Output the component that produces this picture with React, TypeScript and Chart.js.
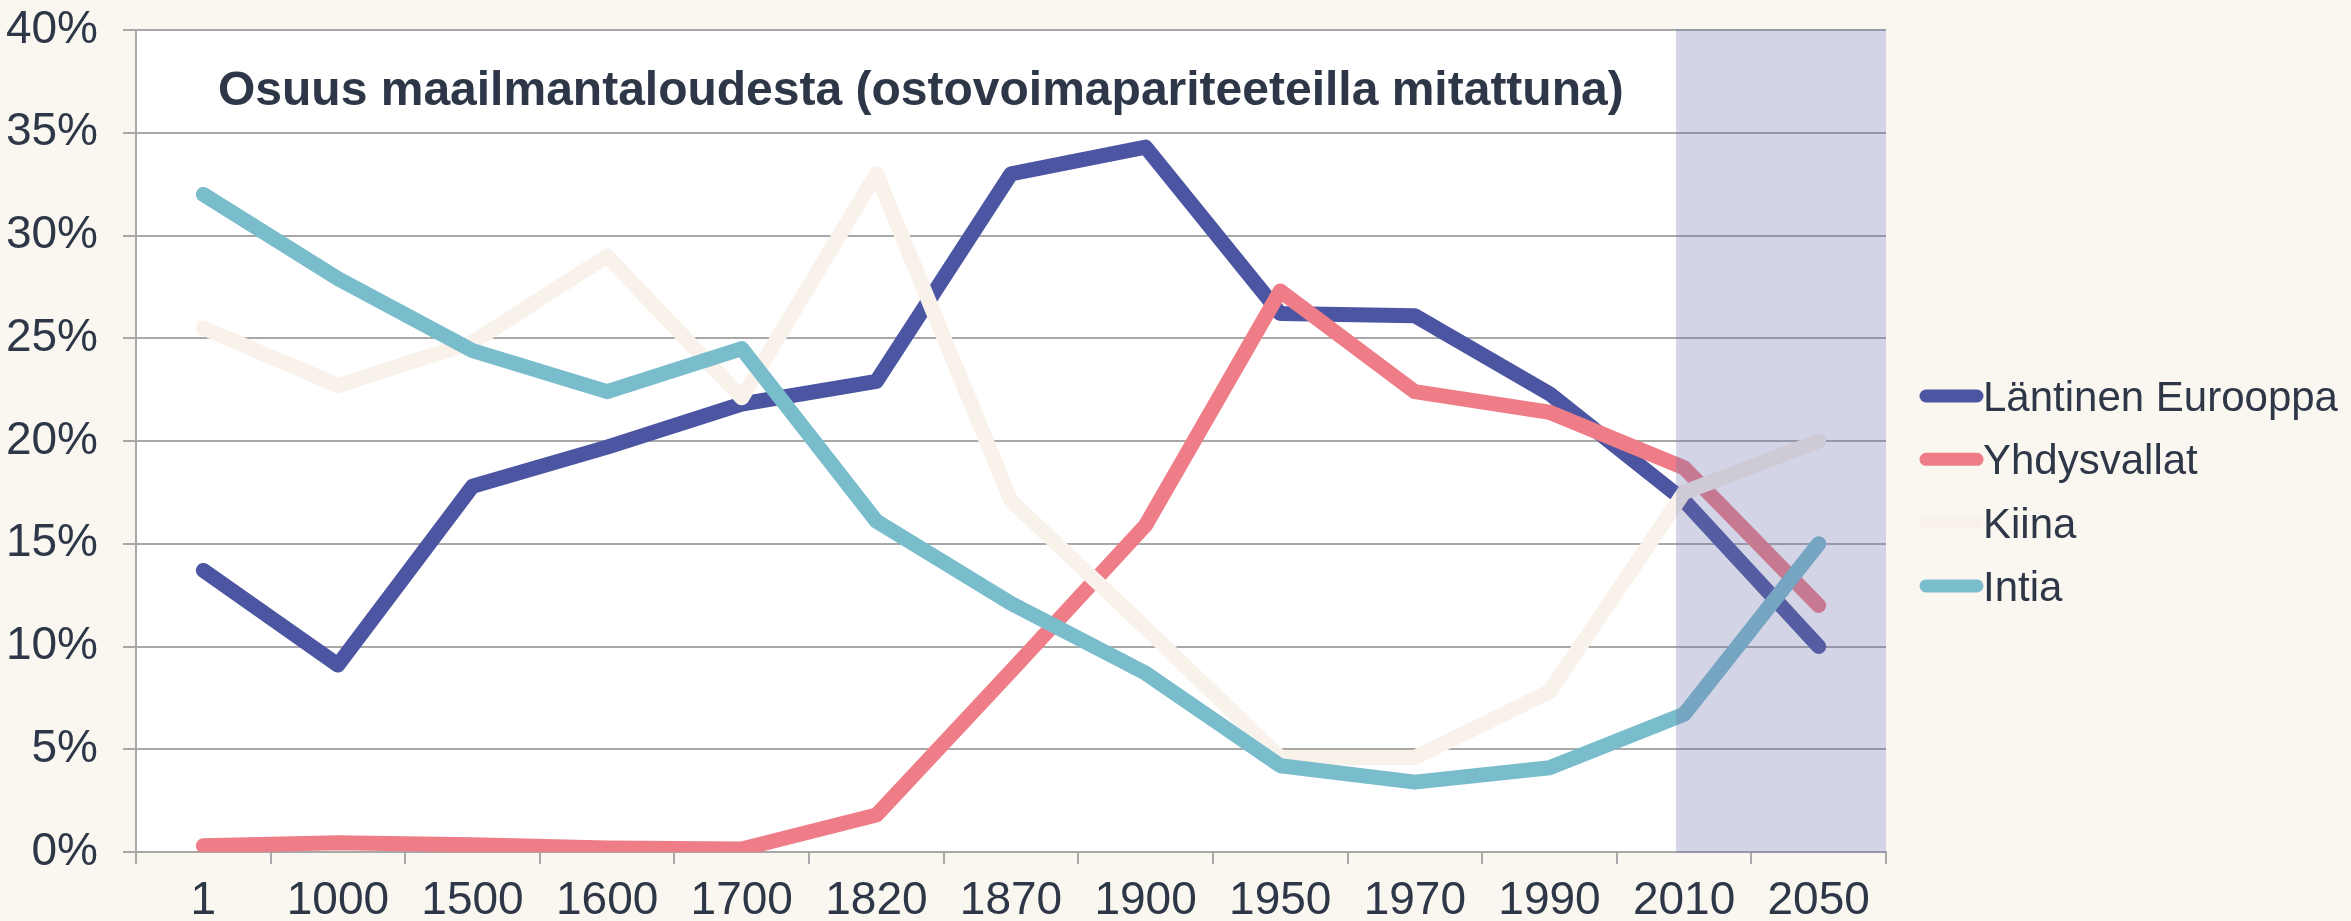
import React, { useEffect, useRef } from "react";
import { Chart, registerables } from "chart.js";

Chart.register(...registerables);

const categories = ["1", "1000", "1500", "1600", "1700", "1820", "1870", "1900", "1950", "1970", "1990", "2010", "2050"];
const lantinenEurooppa = [13.7, 9.1, 17.8, 19.7, 21.8, 22.9, 33.0, 34.3, 26.2, 26.1, 22.3, 17.1, 10.0];
const yhdysvallat = [0.3, 0.45, 0.35, 0.2, 0.15, 1.8, 8.8, 15.9, 27.3, 22.4, 21.4, 18.7, 12.0];
const kiina = [25.5, 22.7, 24.8, 29.0, 22.1, 33.0, 17.1, 10.9, 4.6, 4.6, 7.8, 17.5, 20.0];
const intia = [32.0, 27.9, 24.4, 22.4, 24.5, 16.1, 12.1, 8.7, 4.2, 3.4, 4.1, 6.7, 15.0];
const seriesNames = ["Läntinen Eurooppa", "Yhdysvallat", "Kiina", "Intia"];
const yTicks = [0, 5, 10, 15, 20, 25, 30, 35, 40];
const titleText = "Osuus maailmantaloudesta (ostovoimapariteeteilla mitattuna)";
const forecastStart = "2010";

const FONT = '"Liberation Sans", Arial, sans-serif';
const TEXT = "#2D3748";
const GRID = "#A8A8A8";
const colors = ["#4C55A1", "#EE7D88", "#F8F2EB", "#79BCCB"];

export default function App() {
  const ref = useRef<HTMLCanvasElement | null>(null);

  useEffect(() => {
    const canvas = ref.current;
    if (!canvas) return;

    const plotBg = {
      id: "plotBg",
      beforeDraw(chart: any) {
        const { ctx, chartArea: a } = chart;
        ctx.save();
        ctx.fillStyle = "#FFFFFF";
        ctx.fillRect(a.left, a.top, a.right - a.left, a.bottom - a.top);
        ctx.restore();
      },
    };

    const overlay = {
      id: "overlay",
      afterDatasetsDraw(chart: any) {
        const { ctx, chartArea: a, scales } = chart;
        const x0 = scales.x.getPixelForValue(categories.indexOf(forecastStart)) - 8;
        ctx.save();
        ctx.fillStyle = "rgba(110,113,170,0.3)";
        ctx.fillRect(x0, a.top - 1, a.right - x0, a.bottom - a.top + 2);
        ctx.restore();
      },
    };

    const decorations = {
      id: "decorations",
      afterDraw(chart: any) {
        const { ctx, chartArea: a } = chart;
        ctx.save();
        ctx.fillStyle = TEXT;
        ctx.font = `bold 48px ${FONT}`;
        ctx.textAlign = "left";
        ctx.textBaseline = "alphabetic";
        ctx.fillText(titleText, a.left + 82, a.top + 75);

        const lx0 = a.right + 40;
        const lx1 = a.right + 91;
        const top = 396;
        const step = 63.3;
        chart.data.datasets.forEach((ds: any, i: number) => {
          const y = top + i * step;
          ctx.strokeStyle = ds.borderColor;
          ctx.lineWidth = 13;
          ctx.lineCap = "round";
          ctx.beginPath();
          ctx.moveTo(lx0, y);
          ctx.lineTo(lx1, y);
          ctx.stroke();
          ctx.fillStyle = TEXT;
          ctx.font = `42px ${FONT}`;
          ctx.textBaseline = "alphabetic";
          ctx.fillText(ds.label, a.right + 97, y + 15);
        });
        ctx.restore();
      },
    };

    const series = [lantinenEurooppa, yhdysvallat, kiina, intia];
    const chart = new Chart(canvas, {
      type: "line",
      data: {
        labels: categories,
        datasets: series.map((d, i) => ({
          label: seriesNames[i],
          data: d,
          borderColor: colors[i],
          backgroundColor: colors[i],
          borderWidth: 15,
          pointRadius: 0,
          tension: 0,
          borderCapStyle: "round",
          borderJoinStyle: "round",
          order: 4 - i,
        })),
      },
      options: {
        responsive: false,
        animation: false,
        devicePixelRatio: 1,
        layout: { padding: { top: 30, right: 465, left: 0, bottom: 0 } },
        plugins: {
          legend: { display: false },
          title: { display: false },
          tooltip: { enabled: false },
        },
        scales: {
          x: {
            type: "category",
            offset: true,
            grid: {
              offset: true,
              drawOnChartArea: false,
              drawTicks: true,
              tickLength: 12,
              color: GRID,
              lineWidth: 2,
            },
            border: { color: GRID, width: 2 },
            ticks: {
              font: { family: FONT, size: 46 },
              color: TEXT,
              padding: 10,
              maxRotation: 0,
              autoSkip: false,
            },
            afterFit(scale: any) {
              scale.height = 69;
              scale.paddingLeft = 0;
              scale.paddingRight = 0;
            },
          },
          y: {
            min: 0,
            max: 40,
            afterBuildTicks(scale: any) {
              scale.ticks = yTicks.map((v) => ({ value: v }));
            },
            grid: { color: GRID, lineWidth: 2, tickLength: 13 },
            border: { color: GRID, width: 2 },
            ticks: {
              font: { family: FONT, size: 46 },
              color: TEXT,
              padding: 25,
              callback: (v: any) => `${v}%`,
            },
            afterFit(scale: any) {
              scale.width = 136;
              scale.paddingTop = 0;
              scale.paddingBottom = 0;
            },
          },
        },
      },
      plugins: [plotBg, overlay, decorations],
    } as any);

    return () => chart.destroy();
  }, []);

  return (
    <div
      style={{
        position: "fixed",
        left: 0,
        top: 0,
        width: 2351,
        height: 921,
        background: "#FAF6F0",
      }}
    >
      <canvas ref={ref} width={2351} height={921} style={{ display: "block" }} />
    </div>
  );
}
